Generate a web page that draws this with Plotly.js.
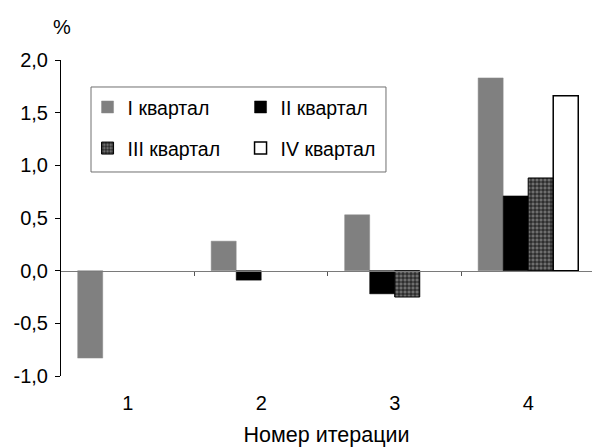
<!DOCTYPE html>
<html>
<head>
<meta charset="utf-8">
<script src="https://cdn.plot.ly/plotly-3.0.1.min.js"></script>
<style>
  html, body { margin: 0; padding: 0; background: #fff; }
  #chart { width: 592px; height: 447px; }
</style>
</head>
<body>
<div id="chart"></div>
<script>
// Iteration numbers on the category axis
const iterations = ['1', '2', '3', '4'];

// Quarterly deviation, %, per iteration (null = no bar)
const quarter1 = [-0.83, 0.28, 0.53, 1.83];
const quarter2 = [null, -0.09, -0.22, 0.71];
const quarter3 = [null, null, -0.25, 0.88];
const quarter4 = [null, null, null, 1.66];

const seriesNames = ['I квартал', 'II квартал', 'III квартал', 'IV квартал'];
const yTicks = [-1.0, -0.5, 0.0, 0.5, 1.0, 1.5, 2.0];
// decimal comma and a plain hyphen for negatives
const yTickText = yTicks.map(v => v.toFixed(1).replace('.', ','));

const FONT = 'Liberation Sans, Arial, sans-serif';
const TICK_FS = 20;
const LEGEND_FS = 19.5;
const TITLE_FS = 21.5;

const traces = [
  {
    type: 'bar', name: seriesNames[0], x: iterations, y: quarter1,
    marker: { color: '#808080', line: { color: '#8a8a8a', width: 0.5 } },
    legend: 'legend'
  },
  {
    type: 'bar', name: seriesNames[1], x: iterations, y: quarter2,
    marker: { color: '#000000', line: { color: '#000000', width: 0.5 } },
    legend: 'legend'
  },
  {
    type: 'bar', name: seriesNames[2], x: iterations, y: quarter3,
    marker: {
      color: '#6a6a6a',
      pattern: { shape: '+', fgcolor: '#000000', bgcolor: '#6e6e6e', size: 4, solidity: 0.32, fillmode: 'replace' },
      line: { color: '#000000', width: 1 }
    },
    legend: 'legend2'
  },
  {
    type: 'bar', name: seriesNames[3], x: iterations, y: quarter4,
    marker: { color: '#ffffff', line: { color: '#000000', width: 1.5 } },
    legend: 'legend2'
  },
  // carrier for the axis line drawn through zero
  {
    type: 'scatter', mode: 'markers', x: [], y: [],
    xaxis: 'x2', yaxis: 'y', showlegend: false, hoverinfo: 'skip'
  }
];

const legendCommon = {
  orientation: 'h',
  xanchor: 'left', yanchor: 'top',
  bgcolor: 'rgba(0,0,0,0)',
  borderwidth: 0,
  entrywidth: 108,
  font: { family: FONT, size: LEGEND_FS, color: '#000' },
  traceorder: 'normal'
};

const layout = {
  width: 592, height: 447,
  margin: { l: 61, r: 0, t: 60, b: 71 },
  paper_bgcolor: '#ffffff', plot_bgcolor: '#ffffff',
  font: { family: FONT, size: TICK_FS, color: '#000' },
  barmode: 'group', bargap: 0.25, bargroupgap: 0,
  showlegend: true,
  legend: Object.assign({}, legendCommon, { x: 0.05, y: 0.912 }),
  legend2: Object.assign({}, legendCommon, { x: 0.05, y: 0.782 }),
  xaxis: {
    type: 'category',
    range: [-0.5, 3.478],
    showline: false, showgrid: false, zeroline: false,
    ticks: '',
    tickfont: { family: FONT, size: TICK_FS, color: '#000' },
    ticklabelstandoff: 13,
    title: { text: 'Номер итерации', font: { family: FONT, size: TITLE_FS, color: '#000' }, standoff: 18 }
  },
  // axis line at y = 0 with marks between iterations
  xaxis2: {
    overlaying: 'x', anchor: 'free', position: 1 / 3,
    type: 'linear', range: [-0.5, 3.478],
    showline: true, linecolor: '#7a7a7a', linewidth: 1,
    showgrid: false, zeroline: false,
    tickmode: 'array',
    tickvals: iterations.slice(1).map((_, i) => i + 0.5),
    ticks: 'outside', ticklen: 4, tickcolor: '#555', tickwidth: 1,
    showticklabels: false
  },
  yaxis: {
    range: [-1, 2],
    tickmode: 'array', tickvals: yTicks, ticktext: yTickText,
    showline: true, linecolor: '#000', linewidth: 1,
    ticks: 'outside', ticklen: 5, tickcolor: '#000', tickwidth: 1,
    ticklabelstandoff: 3,
    showgrid: false, zeroline: false,
    tickfont: { family: FONT, size: TICK_FS, color: '#000' }
  },
  shapes: [
    {
      type: 'rect', xref: 'paper', yref: 'paper',
      x0: 0.0565, x1: 0.612, y0: 0.6456, y1: 0.9146,
      line: { color: '#707070', width: 1 }, fillcolor: 'rgba(0,0,0,0)', layer: 'below'
    }
  ],
  annotations: [
    {
      text: '%', xref: 'paper', yref: 'paper', x: 0.002, y: 1.105,
      xanchor: 'center', yanchor: 'middle', showarrow: false,
      font: { family: FONT, size: TICK_FS, color: '#000' }
    }
  ]
};

Plotly.newPlot('chart', traces, layout, { staticPlot: true, displayModeBar: false });
</script>
</body>
</html>
